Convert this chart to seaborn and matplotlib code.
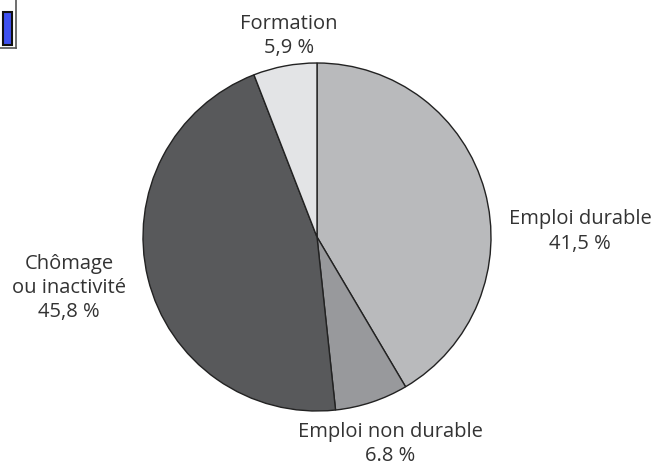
import matplotlib
matplotlib.use("Agg")
import matplotlib.pyplot as plt
import seaborn as sns

# parts of the pie, clockwise from 12 o'clock
categories = ["Emploi durable", "Emploi non durable", "Chômage\nou inactivité", "Formation"]
values = [41.5, 6.8, 45.8, 5.9]
value_labels = ["41,5 %", "6.8 %", "45,8 %", "5,9 %"]
colors = ["#b9babc", "#98999c", "#58595b", "#e3e4e6"]

# label anchors in pixels, measured from the top left of the picture
label_x = [580, 390, 69, 289]
label_y = [231.5, 444, 288, 36]

# small bar icon in the top left corner
icon_names = ["a"]
icon_values = [1]

sns.set_theme(style="white")
plt.rcParams["font.family"] = ["Open Sans", "DejaVu Sans"]

WIDTH, HEIGHT = 653, 466
fig, ax = plt.subplots(figsize=(WIDTH / 100, HEIGHT / 100), dpi=100)
ax.set_position([0, 0, 1, 1])

ax.pie(values, colors=colors, startangle=90, counterclock=False,
       center=(317, HEIGHT - 237), radius=174,
       wedgeprops={"edgecolor": "#222222", "linewidth": 1.0})
ax.set_xlim(0, WIDTH)
ax.set_ylim(0, HEIGHT)

for name, val, x, y in zip(categories, value_labels, label_x, label_y):
    ax.text(x, HEIGHT - y, f"{name}\n{val}", ha="center", va="center",
            fontsize=14.5, color="#333333", linespacing=1.28)

# icon
icon = fig.add_axes([0, 1 - 48 / HEIGHT, 15.5 / WIDTH, 48 / HEIGHT])
sns.barplot(x=icon_names, y=icon_values, ax=icon, color="#3f51f0", saturation=1,
            width=0.6, edgecolor="#111111", linewidth=1.5)
icon.set_xlabel("")
icon.set_ylabel("")
icon.set_xticks([])
icon.set_yticks([])
icon.set_ylim(-0.1, 1.35)
for side in ["left", "top"]:
    icon.spines[side].set_visible(False)
for side in ["right", "bottom"]:
    icon.spines[side].set_color("#555555")
    icon.spines[side].set_linewidth(1.2)

fig.savefig("out.png", dpi=100)
